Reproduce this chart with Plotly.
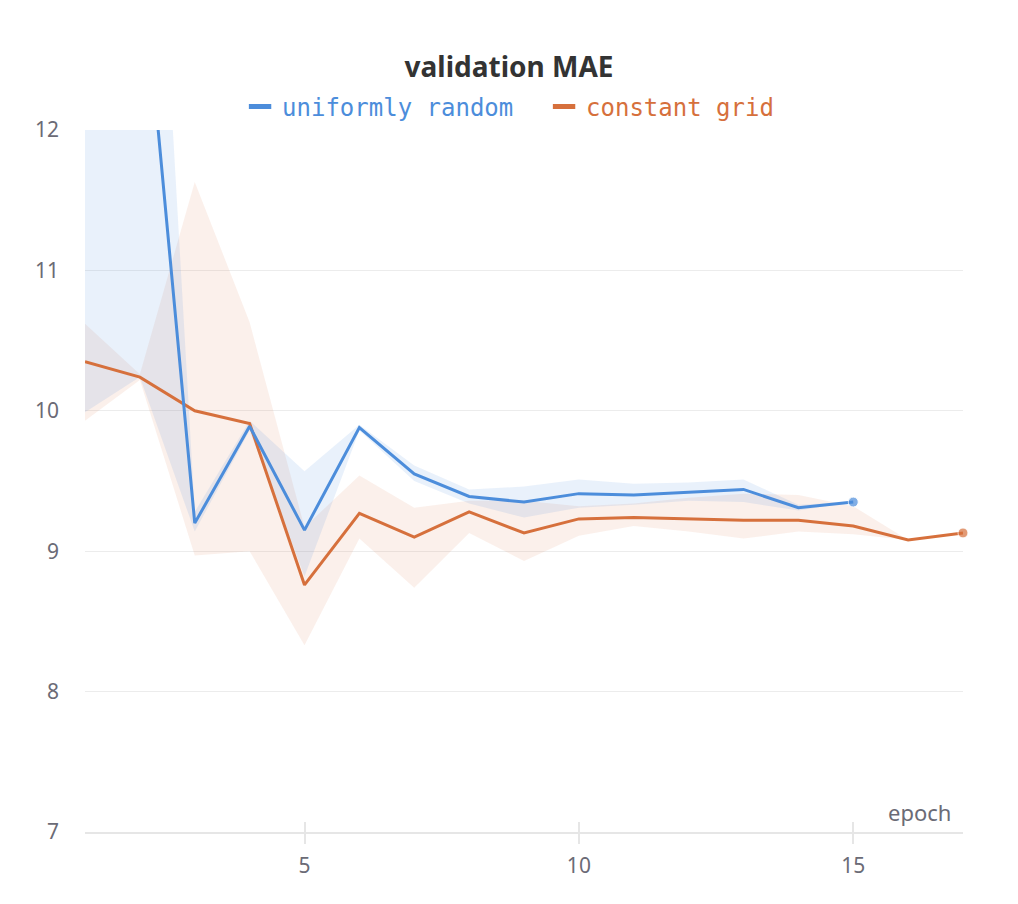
import plotly.graph_objects as go

# ---- data ----
epochs_blue = list(range(1, 16))
blue_mean = [14.0, 13.4, 9.20, 9.89, 9.15, 9.88, 9.55, 9.39, 9.35, 9.41, 9.40, 9.42, 9.44, 9.31, 9.35]
blue_upper = [15.5, 16.1, 9.28, 9.93, 9.57, 9.90, 9.61, 9.44, 9.46, 9.51, 9.48, 9.49, 9.51, 9.33, 9.35]
blue_lower = [9.99, 10.24, 9.14, 9.86, 8.82, 9.86, 9.50, 9.34, 9.24, 9.31, 9.33, 9.36, 9.35, 9.29, 9.35]

epochs_orange = list(range(1, 18))
orange_mean = [10.35, 10.24, 10.00, 9.91, 8.76, 9.27, 9.10, 9.28, 9.13, 9.23, 9.24, 9.23, 9.22, 9.22, 9.18, 9.08, 9.13]
epochs_orange_band = list(range(1, 17))
orange_upper = [10.62, 10.26, 11.63, 10.63, 9.17, 9.54, 9.31, 9.36, 9.36, 9.32, 9.34, 9.38, 9.41, 9.40, 9.32, 9.08]
orange_lower = [9.93, 10.22, 8.97, 9.00, 8.33, 9.09, 8.74, 9.13, 8.93, 9.11, 9.18, 9.14, 9.09, 9.14, 9.12, 9.08]

y_ticks = [7, 8, 9, 10, 11, 12]
x_ticks = [5, 10, 15]

BLUE = "rgb(76,141,219)"
ORANGE = "rgb(214,112,60)"
BLUE_FILL = "rgba(76,141,219,0.12)"
ORANGE_FILL = "rgba(214,112,60,0.10)"

fig = go.Figure()

# bands
fig.add_trace(go.Scatter(
    x=epochs_orange_band + epochs_orange_band[::-1],
    y=orange_upper + orange_lower[::-1],
    fill="toself", fillcolor=ORANGE_FILL, line=dict(width=0),
    mode="lines", hoverinfo="skip", showlegend=False))
fig.add_trace(go.Scatter(
    x=epochs_blue + epochs_blue[::-1],
    y=blue_upper + blue_lower[::-1],
    fill="toself", fillcolor=BLUE_FILL, line=dict(width=0),
    mode="lines", hoverinfo="skip", showlegend=False))

# lines
fig.add_trace(go.Scatter(
    x=epochs_orange, y=orange_mean, mode="lines+markers",
    line=dict(color=ORANGE, width=3),
    marker=dict(color=ORANGE, size=[0] * (len(orange_mean) - 1) + [10]),
    cliponaxis=False, showlegend=False))
fig.add_trace(go.Scatter(
    x=epochs_blue, y=blue_mean, mode="lines+markers",
    line=dict(color=BLUE, width=3),
    marker=dict(color=BLUE, size=[0] * (len(blue_mean) - 1) + [10]),
    showlegend=False))

# legend entries
fig.add_trace(go.Scatter(
    x=[None], y=[None], mode="markers",
    marker=dict(symbol="line-ew-open", size=16, color=BLUE, line=dict(color=BLUE, width=5)),
    name=f"<span style='color:{BLUE}'>uniformly random</span>"))
fig.add_trace(go.Scatter(
    x=[None], y=[None], mode="markers",
    marker=dict(symbol="line-ew-open", size=16, color=ORANGE, line=dict(color=ORANGE, width=5)),
    name=f"<span style='color:{ORANGE}'>constant grid</span>"))

# invisible overlay axis for inside tick halves
fig.add_trace(go.Scatter(x=[None], y=[None], xaxis="x2", showlegend=False, hoverinfo="skip"))

W, H = 1002, 888
fig.update_layout(
    width=W, height=H,
    paper_bgcolor="white", plot_bgcolor="white",
    margin=dict(l=77, r=47, t=122, b=64, autoexpand=False),
    title=dict(text="<b>validation MAE</b>", x=0.5, xref="container", xanchor="center",
               y=1 - 59 / H, yref="container", yanchor="middle",
               font=dict(family="Noto Sans", size=28, color="#333333")),
    legend=dict(orientation="h", x=0.533, xref="container", xanchor="center",
                y=1 - 99 / H, yref="container", yanchor="middle",
                font=dict(family="DejaVu Sans Mono", size=24),
                itemwidth=34, entrywidth=255, entrywidthmode="pixels",
                bgcolor="rgba(0,0,0,0)"),
    xaxis=dict(range=[1, 17], tickvals=x_ticks, ticktext=[str(v) for v in x_ticks],
               showgrid=False, zeroline=False, automargin=False,
               showline=True, linecolor="#e6e6e6", linewidth=2,
               ticks="outside", ticklen=10, tickcolor="#e6e6e6", tickwidth=1.5,
               tickfont=dict(family="Noto Sans", size=21, color="#6b6b76"),
               ticklabelstandoff=4),
    xaxis2=dict(range=[1, 17], overlaying="x", matches="x", tickvals=x_ticks,
                showticklabels=False, showgrid=False, zeroline=False, showline=False,
                ticks="inside", ticklen=10, tickcolor="#e6e6e6", tickwidth=1.5,
                anchor="y", side="bottom", automargin=False),
    yaxis=dict(range=[7, 12], tickvals=y_ticks, ticktext=[str(v) for v in y_ticks],
               showgrid=True, gridcolor="#ececec", gridwidth=1, zeroline=False,
               showline=False, ticks="", automargin=False,
               tickfont=dict(family="Noto Sans", size=21, color="#6b6b76"),
               ticklabelstandoff=25),
    annotations=[dict(text="epoch", x=17, xref="x", xanchor="right", y=7, yref="y",
                      yanchor="bottom", yshift=3, xshift=-10, showarrow=False,
                      font=dict(family="Noto Sans", size=22, color="#6b6b76"))],
)

fig.write_html("out.html")
